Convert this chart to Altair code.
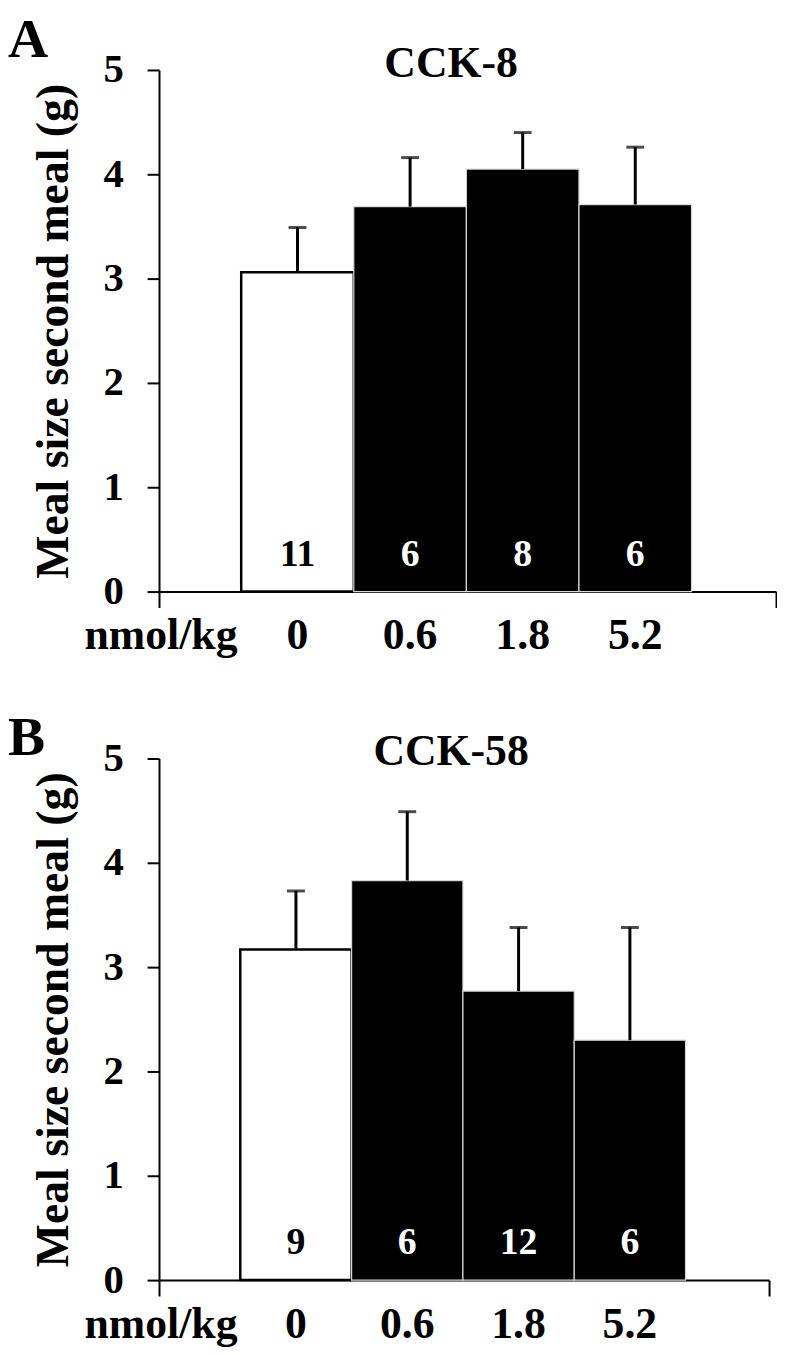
import altair as alt
import pandas as pd

# ---- data ----
doses = ["0", "0.6", "1.8", "5.2"]
groups = ["vehicle", "CCK", "CCK", "CCK"]

a_title = "CCK-8"
a_mean = [3.06, 3.69, 4.05, 3.71]
a_top = [3.49, 4.16, 4.40, 4.26]      # mean + SEM
a_n = [11, 6, 8, 6]

b_title = "CCK-58"
b_mean = [3.17, 3.83, 2.77, 2.30]
b_top = [3.73, 4.49, 3.38, 3.38]      # mean + SEM
b_n = [9, 6, 12, 6]

y_ticks = [0, 1, 2, 3, 4, 5]
unit_label = "nmol/kg"
y_title = "Meal size second meal (g)"

FONT = "Liberation Serif"
H = 525
XDOM = [-1.23, 4.25]


def panel(letter, title, means, tops, ns, width, letter_y):
    df = pd.DataFrame({
        "idx": list(range(len(doses))),
        "dose": doses,
        "group": groups,
        "mean": means,
        "top": tops,
        "n": [str(v) for v in ns],
    })
    xs = alt.Scale(domain=XDOM, nice=False, zero=False)
    ys = alt.Scale(domain=[0, 5], nice=False)
    xaxis = alt.Axis(values=XDOM, labels=False, tickSize=16, grid=False)
    yaxis = alt.Axis(values=y_ticks, tickSize=12, labelPadding=24,
                     titlePadding=26, labelFlush=False, labelOverlap=False,
                     grid=False)
    base = alt.Chart(df)

    bars = base.transform_calculate(
        x0="datum.idx - 0.5", x1="datum.idx + 0.5"
    ).mark_bar().encode(
        x=alt.X("x0:Q", scale=xs, title=None, axis=xaxis),
        x2="x1:Q",
        y=alt.Y("mean:Q", scale=ys, title=y_title, axis=yaxis),
        y2=alt.datum(0),
        fill=alt.Fill("group:N", scale=alt.Scale(domain=["vehicle", "CCK"], range=["white", "black"]), legend=None),
        stroke=alt.Stroke("group:N", scale=alt.Scale(domain=["vehicle", "CCK"], range=["black", "#d8d8d8"]), legend=None),
        strokeWidth=alt.StrokeWidth("group:N", scale=alt.Scale(domain=["vehicle", "CCK"], range=[2.5, 1.2]), legend=None),
    )
    err = base.mark_rule(color="black", strokeWidth=3).encode(
        x=alt.X("idx:Q", scale=xs, title=None, axis=xaxis),
        y=alt.Y("mean:Q", scale=ys, title=y_title, axis=yaxis),
        y2="top:Q",
    )
    caps = base.mark_tick(orient="horizontal", size=18, thickness=3, color="black").encode(
        x=alt.X("idx:Q", scale=xs, title=None, axis=xaxis),
        y=alt.Y("top:Q", scale=ys, title=y_title, axis=yaxis),
    )
    nlab = base.mark_text(font=FONT, fontSize=38, fontWeight="bold", baseline="alphabetic").encode(
        x=alt.X("idx:Q", scale=xs, title=None, axis=xaxis),
        y=alt.value(H - 26),
        text="n:N",
        color=alt.Color("group:N", scale=alt.Scale(domain=["vehicle", "CCK"], range=["black", "white"]), legend=None),
    )
    xlab = base.mark_text(font=FONT, fontSize=44, fontWeight="bold", baseline="alphabetic", color="black").encode(
        x=alt.X("idx:Q", scale=xs, title=None, axis=xaxis),
        y=alt.value(H + 58),
        text="dose:N",
    )
    tdf = pd.DataFrame({"unit": [unit_label], "title": [title], "letter": [letter]})
    tbase = alt.Chart(tdf)
    unit = tbase.mark_text(font=FONT, fontSize=44, fontWeight="bold", baseline="alphabetic", color="black").encode(
        x=alt.value(2), y=alt.value(H + 58), text="unit:N")
    ttl = tbase.mark_text(font=FONT, fontSize=44, fontWeight="bold", baseline="alphabetic", color="black").encode(
        x=alt.value(294), y=alt.value(7), text="title:N")
    let = tbase.mark_text(font=FONT, fontSize=56, fontWeight="bold", baseline="alphabetic", align="left", color="black").encode(
        x=alt.value(-152), y=alt.value(letter_y), text="letter:N")

    return alt.layer(bars, err, caps, nlab, xlab, unit, ttl, let).properties(width=width, height=H)


pa = panel("A", a_title, a_mean, a_top, a_n, 621, -13)
pb = panel("B", b_title, b_mean, b_top, b_n, 614, -4)

chart = alt.vconcat(pa, pb, spacing=52).properties(
    padding={"left": 0, "top": 0, "right": 0, "bottom": 0}
).configure_view(stroke=None).configure_axis(
    domainColor="black", domainWidth=2, tickColor="black", tickWidth=2,
    labelFont=FONT, labelFontSize=41, labelFontWeight="bold", labelColor="black",
    titleFont=FONT, titleFontSize=46, titleFontWeight="bold", titleColor="black",
)

chart.save("out.html", embed_options={"renderer": "svg", "actions": False})
